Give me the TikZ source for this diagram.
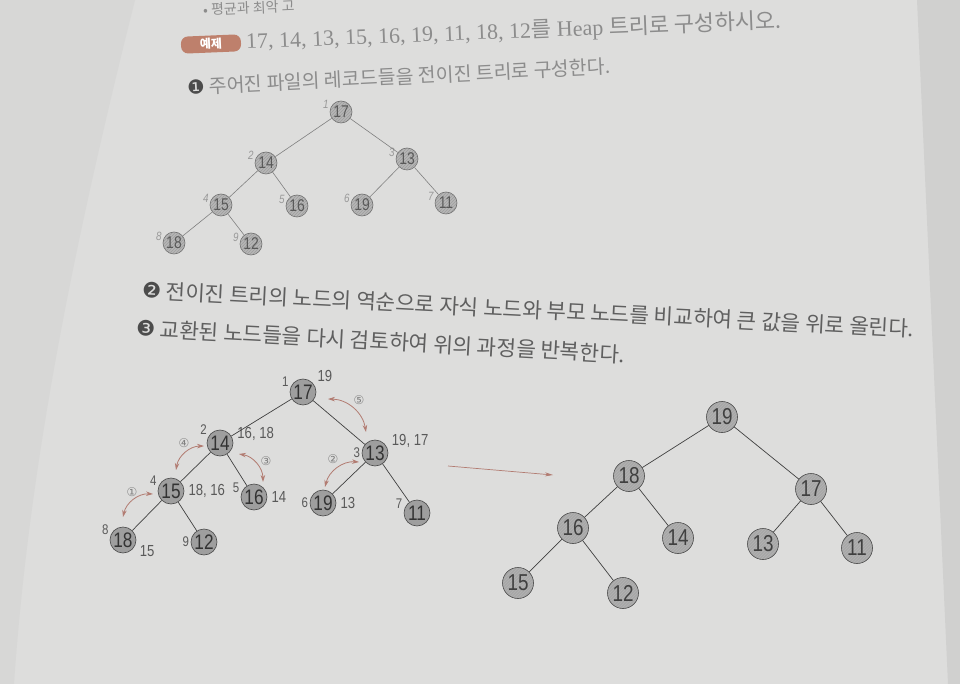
\documentclass[tikz,border=0pt]{standalone}
\usepackage{fontspec}
\setmainfont{Liberation Serif}
\newfontfamily\kr{Noto Sans CJK KR}
\newfontfamily\sym{DejaVu Sans}
\newfontfamily\num{Liberation Sans}[FakeStretch=0.82]
\usepackage{xcolor}
\usetikzlibrary{patterns}
\usetikzlibrary{positioning, arrows.meta}
\definecolor{paper}{RGB}{221,221,220}
\definecolor{paperL}{RGB}{215,215,214}
\definecolor{paperR}{RGB}{208,208,207}
\definecolor{faint}{RGB}{140,140,140}
\definecolor{ink}{RGB}{95,95,95}
\definecolor{badge}{RGB}{190,128,108}
\definecolor{swapc}{RGB}{178,124,114}
\definecolor{nodeA}{RGB}{182,182,182}
\definecolor{nodeB}{RGB}{160,160,160}
\definecolor{nodeC}{RGB}{168,168,168}

\begin{document}
\begin{tikzpicture}[x=1pt,y=-1pt]
    % Define the styles for the nodes and the lines
    \tikzstyle{keyA}=[circle, draw=black!55, line width=0.6pt, minimum size=22pt, inner sep=0pt, preaction={fill=nodeA}, pattern=north east lines, pattern color=black!38, text=black!65, font=\num\fontsize{17}{17}\selectfont];
    \tikzstyle{keyB}=[keyA, draw=black!70, minimum size=26pt, preaction={fill=nodeB}, text=black!80, font=\num\fontsize{21}{21}\selectfont];
    \tikzstyle{keyC}=[keyA, draw=black!70, minimum size=31pt, preaction={fill=nodeC}, pattern color=black!30, text=black!75, font=\num\fontsize{23}{23}\selectfont];
    \tikzstyle{idxA}=[text=black!40, inner sep=1pt, font=\num\itshape\fontsize{12}{12}\selectfont];
    \tikzstyle{idxB}=[text=black!65, inner sep=1.5pt, font=\num\fontsize{14}{14}\selectfont];
    \tikzstyle{val}=[text=black!65, inner sep=1pt, label distance=3pt, font=\num\fontsize{16}{16}\selectfont];
    \tikzstyle{edgeA}=[draw=black!50, line width=0.6pt];
    \tikzstyle{edgeB}=[draw=black!75, line width=0.7pt];
    \tikzstyle{swap}=[{Stealth[length=7pt,width=4.5pt]}-{Stealth[length=7pt,width=4.5pt]}, draw=swapc, line width=0.8pt];
    \tikzstyle{stepnum}=[text=black!50, inner sep=0pt, font=\sym\fontsize{12}{12}\selectfont];
    \tikzstyle{goes}=[-{Stealth[length=8pt,width=4pt]}, draw=swapc, line width=0.7pt];
    \tikzstyle{line}=[anchor=west, inner sep=0pt];

    % Paper and page edges
    \useasboundingbox (0,0) rectangle (960,684);
    \fill[paper] (0,0) rectangle (960,684);
    \fill[paperL] (0,0) -- (135,0) .. controls (80,220) and (30,450) .. (14,684) -- (0,684) -- cycle;
    \fill[paperR] (917,0) -- (960,0) -- (960,684) -- (948,684) -- cycle;

    % Texts of the task
    \node[line, rotate=2.5, text=faint, font=\kr\fontsize{14}{14}\selectfont] (top) at (203,10) {• 평균과 최악 고};
    \node[rotate=2.4, fill=badge, rounded corners=7pt, minimum width=60pt, minimum height=17pt, inner sep=0pt, text=white, font=\kr\bfseries\fontsize{12}{12}\selectfont] (ex) at (211,44) {예제};
    \node[line, rotate=2.2, text=faint, font=\fontsize{22}{22}\selectfont] (task) at (246,42) {17, 14, 13, 15, 16, 19, 11, 18, 12{\kr 를} Heap {\kr 트리로 구성하시오.}};
    \node[line, rotate=2.8, text=faint, font=\kr\fontsize{19.4}{19.4}\selectfont] (one) at (187,87) {{\sym\color{black!70}❶} 주어진 파일의 레코드들을 전이진 트리로 구성한다.};
    \node[line, rotate=-2.9, text=ink, font=\kr\fontsize{21.3}{21.3}\selectfont] (two) at (142,290) {{\sym\color{black!70}❷} 전이진 트리의 노드의 역순으로 자식 노드와 부모 노드를 비교하여 큰 값을 위로 올린다.};
    \node[line, rotate=-3.1, text=ink, font=\kr\fontsize{21.3}{21.3}\selectfont] (three) at (136,328) {{\sym\color{black!70}❸} 교환된 노드들을 다시 검토하여 위의 과정을 반복한다.};

    % Complete binary tree
    \node[keyA, label={[idxA]170:1}] (A17) at (341,112) {17};
    \node[keyA, label={[idxA]170:2}] (A14) at (266,163) {14};
    \node[keyA, label={[idxA]175:3}] (A13) at (407,159) {13};
    \node[keyA, label={[idxA]175:4}] (A15) at (221,205) {15};
    \node[keyA, label={[idxA]175:5}] (A16) at (297,206) {16};
    \node[keyA, label={[idxA]175:6}] (A19) at (362,205) {19};
    \node[keyA, label={[idxA]175:7}] (A11) at (446,203) {11};
    \node[keyA, label={[idxA]175:8}] (A18) at (174,243) {18};
    \node[keyA, label={[idxA]175:9}] (A12) at (251,244) {12};
    \draw[edgeA] (A17) -- (A14);
    \draw[edgeA] (A17) -- (A13);
    \draw[edgeA] (A14) -- (A15);
    \draw[edgeA] (A14) -- (A16);
    \draw[edgeA] (A13) -- (A19);
    \draw[edgeA] (A13) -- (A11);
    \draw[edgeA] (A15) -- (A18);
    \draw[edgeA] (A15) -- (A12);

    % Tree with the swaps
    \node[keyB, label={[idxB]165:1}, label={[val]35:19}] (B17) at (303,392) {17};
    \node[keyB, label={[idxB]150:2}, label={[val]5:{16, 18}}] (B14) at (220,443) {14};
    \node[keyB, label={[idxB]180:3}, label={[val]15:{19, 17}}] (B13) at (375,453) {13};
    \node[keyB, label={[idxB]165:4}, label={[val]0:{18, 16}}] (B15) at (171,491) {15};
    \node[keyB, label={[idxB]170:5}, label={[val]0:14}] (B16) at (254,497) {16};
    \node[keyB, label={[idxB]180:6}, label={[val]0:13}] (B19) at (323,503) {19};
    \node[keyB, label={[idxB]170:7}] (B11) at (417,513) {11};
    \node[keyB, label={[idxB]165:8}, label={[val]-15:15}] (B18) at (123,540) {18};
    \node[keyB, label={[idxB]180:9}] (B12) at (204,542) {12};
    \draw[edgeB] (B17) -- (B14);
    \draw[edgeB] (B17) -- (B13);
    \draw[edgeB] (B14) -- (B15);
    \draw[edgeB] (B14) -- (B16);
    \draw[edgeB] (B13) -- (B19);
    \draw[edgeB] (B13) -- (B11);
    \draw[edgeB] (B15) -- (B18);
    \draw[edgeB] (B15) -- (B12);

    % Ends of the swap arrows
    \coordinate (s1a) at (153,494); \coordinate (s1b) at (123,517);
    \coordinate (s2a) at (359,462); \coordinate (s2b) at (325,487);
    \coordinate (s3a) at (239,454); \coordinate (s3b) at (263,482);
    \coordinate (s4a) at (204,446); \coordinate (s4b) at (176,470);
    \coordinate (s5a) at (328,399); \coordinate (s5b) at (366,432);
    \draw[swap] (s1a) to[bend right=40] (s1b);
    \draw[swap] (s2a) to[bend right=40] (s2b);
    \draw[swap] (s3a) to[bend left=40] (s3b);
    \draw[swap] (s4a) to[bend right=40] (s4b);
    \draw[swap] (s5a) to[bend left=40] (s5b);
    \node[stepnum] (n1) at (132,492) {①};
    \node[stepnum] (n2) at (333,459) {②};
    \node[stepnum] (n3) at (266,461) {③};
    \node[stepnum] (n4) at (184,443) {④};
    \node[stepnum] (n5) at (359,400) {⑤};

    % Arrow to the heap
    \coordinate (g1) at (448,466);
    \coordinate (g2) at (553,475);
    \draw[goes] (g1) -- (g2);

    % Resulting heap
    \node[keyC] (C19) at (722,417) {19};
    \node[keyC] (C18) at (629,476) {18};
    \node[keyC] (C17) at (811,489) {17};
    \node[keyC] (C16) at (573,528) {16};
    \node[keyC] (C14) at (678,538) {14};
    \node[keyC] (C13) at (763,544) {13};
    \node[keyC] (C11) at (857,548) {11};
    \node[keyC] (C15) at (518,583) {15};
    \node[keyC] (C12) at (623,593) {12};
    \draw[edgeB] (C19) -- (C18);
    \draw[edgeB] (C19) -- (C17);
    \draw[edgeB] (C18) -- (C16);
    \draw[edgeB] (C18) -- (C14);
    \draw[edgeB] (C17) -- (C13);
    \draw[edgeB] (C17) -- (C11);
    \draw[edgeB] (C16) -- (C15);
    \draw[edgeB] (C16) -- (C12);
\end{tikzpicture}
\end{document}
